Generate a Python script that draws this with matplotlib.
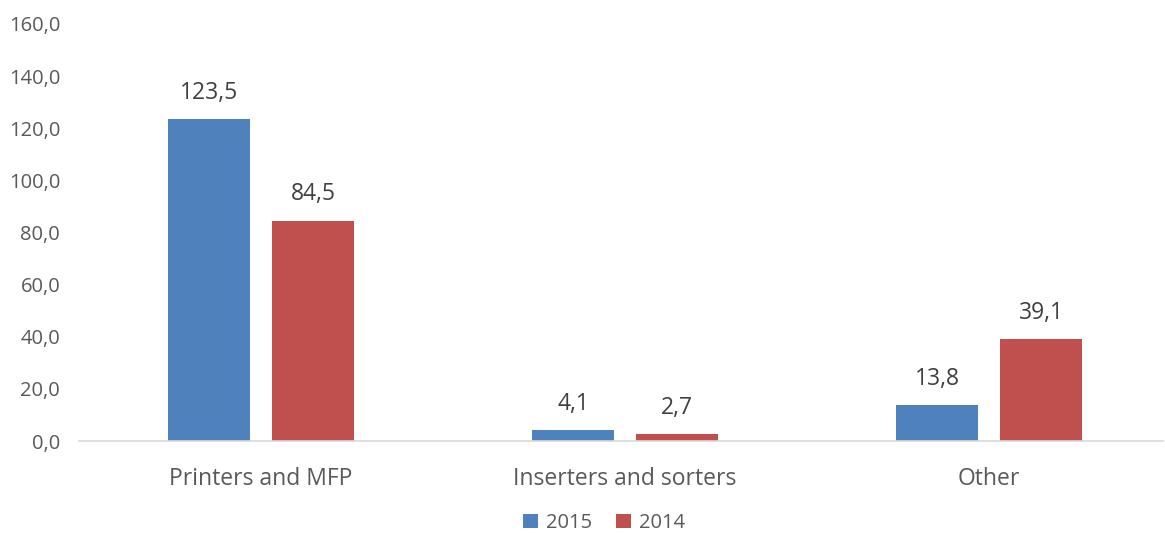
import matplotlib
matplotlib.use("Agg")
import matplotlib.pyplot as plt
import numpy as np

plt.rcParams['font.family'] = ['Open Sans', 'DejaVu Sans']

categories = ["Printers and MFP", "Inserters and sorters", "Other"]
series_names = ["2015", "2014"]
values_2015 = [123.5, 4.1, 13.8]
values_2014 = [84.5, 2.7, 39.1]
y_ticks = [0, 20, 40, 60, 80, 100, 120, 140, 160]

colors = ["#4F81BD", "#C0504D"]

W, H = 1165, 533
fig = plt.figure(figsize=(W / 100, H / 100), dpi=100)
ax = fig.add_axes([79 / W, (H - 441) / H, (1163 - 79) / W, (441 - 24) / H])

x = np.arange(len(categories))
width = 0.225
offset = 0.143

for vals, name, col, off in zip([values_2015, values_2014], series_names, colors, [-offset, offset]):
    bars = ax.bar(x + off, vals, width, color=col, label=name, zorder=2)
    for b, v in zip(bars, vals):
        ax.text(b.get_x() + b.get_width() / 2, v + 5.5, f"{v:.1f}".replace(".", ","),
                ha="center", va="bottom", fontsize=16.5, color="#404040")

ax.set_xlim(-0.5, -0.5 + 1084 / 364)
ax.set_ylim(0, 160)
ax.set_yticks(y_ticks)
ax.set_yticklabels([f"{t:.1f}".replace(".", ",") for t in y_ticks], fontsize=14.5, color="#595959")
ax.set_xticks(x)
ax.set_xticklabels(categories, fontsize=16.5, color="#595959")
ax.tick_params(axis="both", length=0)
ax.tick_params(axis="x", pad=19)
ax.tick_params(axis="y", pad=13.5)

for s in ["top", "right", "left"]:
    ax.spines[s].set_visible(False)
ax.spines["bottom"].set_color("#D9D9D9")
ax.spines["bottom"].set_linewidth(1.2)

leg = fig.legend(loc="center", bbox_to_anchor=(604 / W, (H - 523) / H), ncol=2, frameon=False,
                 fontsize=14.5, handlelength=0.75, handleheight=0.75, handletextpad=0.4, columnspacing=1.2)
for t in leg.get_texts():
    t.set_color("#595959")

fig.savefig("out.png", dpi=100)
